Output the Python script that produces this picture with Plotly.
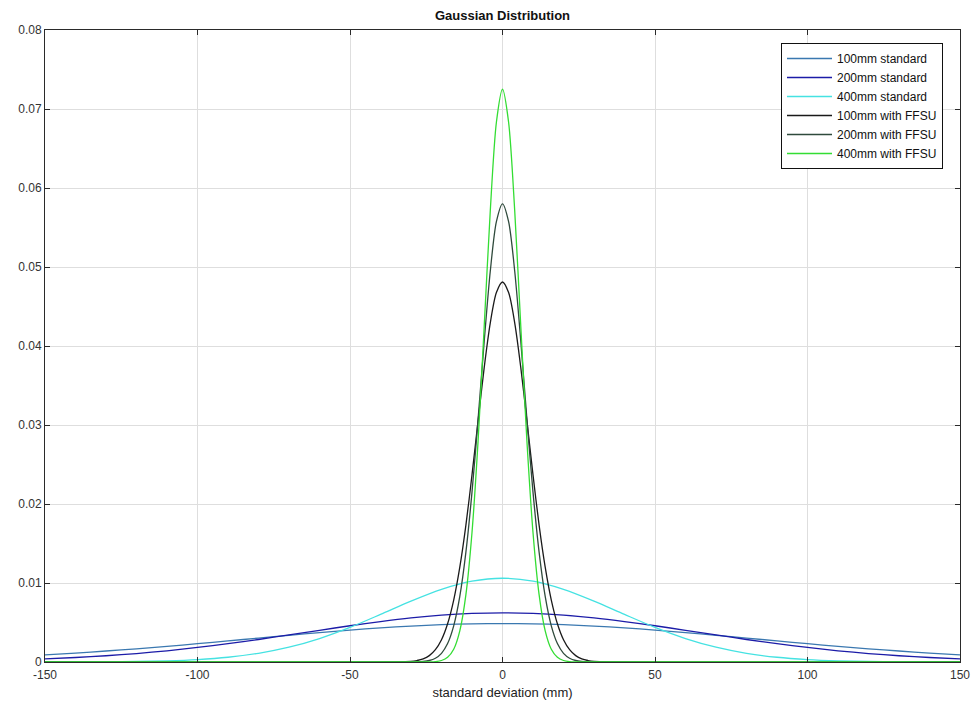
import plotly.graph_objects as go

# ---- data ----
x_std = [-150, -140, -130, -120, -110, -100, -90, -80, -70, -60, -50, -40, -30, -20, -10, 0,
         10, 20, 30, 40, 50, 60, 70, 80, 90, 100, 110, 120, 130, 140, 150]

half_100_std = [0.00487, 0.00483, 0.00473, 0.00455, 0.00432, 0.00404, 0.00373, 0.00338,
                0.00303, 0.00267, 0.00232, 0.00198, 0.00167, 0.00139, 0.00113, 0.00091]
half_200_std = [0.00623, 0.00615, 0.00593, 0.00558, 0.00512, 0.00459, 0.00401, 0.00343,
                0.00285, 0.00232, 0.00184, 0.00142, 0.00107, 0.00079, 0.00057, 0.00040]
half_400_std = [0.0106, 0.01023, 0.00920, 0.00771, 0.00602, 0.00438, 0.00297, 0.00187,
                0.00110, 0.00060, 0.00031, 0.00015, 0.000065, 0.000027, 0.00001, 0.000004]

y_100_std = half_100_std[:0:-1] + half_100_std
y_200_std = half_200_std[:0:-1] + half_200_std
y_400_std = half_400_std[:0:-1] + half_400_std

x_ffsu = [-150, -30, -28, -26, -24, -22, -20, -18, -16, -14, -12, -10, -8, -6, -4, -2, 0,
          2, 4, 6, 8, 10, 12, 14, 16, 18, 20, 22, 24, 26, 28, 30, 150]

half_100_ffsu = [0.0481, 0.04676, 0.04294, 0.03727, 0.03056, 0.02368, 0.01733, 0.01200,
                 0.00784, 0.00484, 0.00282, 0.00156, 0.00081, 0.00040, 0.00019, 0.00008, 0.0]
half_200_ffsu = [0.0580, 0.05574, 0.04949, 0.04058, 0.03074, 0.02151, 0.01390, 0.00830,
                 0.00458, 0.00233, 0.00110, 0.00048, 0.00019, 0.00007, 0.00002, 0.00001, 0.0]
half_400_ffsu = [0.0725, 0.06832, 0.05715, 0.04246, 0.02801, 0.01640, 0.00853, 0.00394,
                 0.00161, 0.00059, 0.00019, 0.00005, 0.00001, 0.0, 0.0, 0.0, 0.0]

y_100_ffsu = half_100_ffsu[:0:-1] + half_100_ffsu
y_200_ffsu = half_200_ffsu[:0:-1] + half_200_ffsu
y_400_ffsu = half_400_ffsu[:0:-1] + half_400_ffsu

x_tick_vals = [-150, -100, -50, 0, 50, 100, 150]
x_tick_text = ["-150", "-100", "-50", "0", "50", "100", "150"]
y_tick_vals = [0, 0.01, 0.02, 0.03, 0.04, 0.05, 0.06, 0.07, 0.08]
y_tick_text = ["0", "0.01", "0.02", "0.03", "0.04", "0.05", "0.06", "0.07", "0.08"]

names = ["100mm standard", "200mm standard", "400mm standard",
         "100mm with FFSU", "200mm with FFSU", "400mm with FFSU"]
colors = ["#3a78b0", "#1c1ca8", "#45e2e2", "#1a1a1a", "#2f4a3c", "#33dd33"]

series = [(x_std, y_100_std), (x_std, y_200_std), (x_std, y_400_std),
          (x_ffsu, y_100_ffsu), (x_ffsu, y_200_ffsu), (x_ffsu, y_400_ffsu)]

fig = go.Figure()
for (xs, ys), name, col in zip(series, names, colors):
    fig.add_trace(go.Scatter(x=xs, y=ys, mode="lines", name=name,
                             line=dict(color=col, width=1.3, shape="spline", smoothing=0.8)))

FONT = "Liberation Sans, Arial, sans-serif"
axis_common = dict(showline=True, linecolor="#2a2a2a", linewidth=1, mirror="ticks",
                   ticks="inside", ticklen=5, tickcolor="#2a2a2a",
                   showgrid=True, gridcolor="#dedede", gridwidth=1, zeroline=False,
                   automargin=False,
                   tickfont=dict(family=FONT, size=12, color="#333"))

fig.update_layout(
    width=974, height=708,
    margin=dict(l=45, r=14, t=30, b=46),
    paper_bgcolor="white", plot_bgcolor="white",
    title=dict(text="<b>Gaussian Distribution</b>", x=0.5, xref="paper", y=1 - 15 / 708,
               yanchor="middle", xanchor="center",
               font=dict(family=FONT, size=13, color="#111")),
    xaxis=dict(range=[-150, 150], tickvals=x_tick_vals, ticktext=x_tick_text,
               ticklabelstandoff=2,
               title=dict(text="standard deviation (mm)", standoff=6,
                          font=dict(family=FONT, size=13, color="#222")),
               **axis_common),
    yaxis=dict(range=[0, 0.08], tickvals=y_tick_vals, ticktext=y_tick_text, **axis_common),
    legend=dict(x=(943 - 45) / 915, y=1 - (43 - 30) / 632, xanchor="right", yanchor="top",
                bgcolor="white", bordercolor="#111", borderwidth=1,
                font=dict(family=FONT, size=12, color="#111"),
                tracegroupgap=0, itemwidth=45),
    showlegend=True,
)

fig.write_html("out.html")
